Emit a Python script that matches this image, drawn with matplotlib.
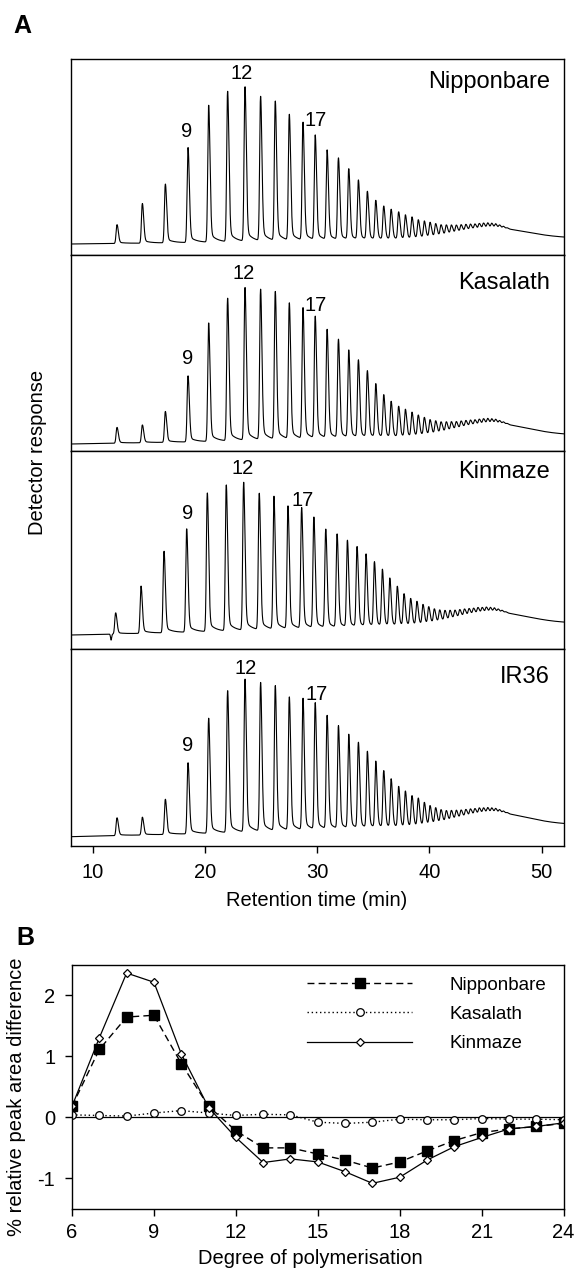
#!/usr/bin/env python3
"""
Rice starch chain length profiles: chromatograms (A) and
relative peak area differences against IR36 (B)
"""

import numpy as np
import matplotlib.pyplot as plt

plt.rcParams['font.family'] = ['Liberation Sans', 'DejaVu Sans']
plt.rcParams['axes.unicode_minus'] = False

# ---- panel A: peak table, DP 6..48 ----
dp = list(range(6, 49))
peak_time = [12.14, 14.40, 16.45, 18.47, 20.31, 22.00, 23.55, 24.94, 26.25, 27.50,
             28.72, 29.81, 30.87, 31.88, 32.80, 33.66, 34.46, 35.21, 35.92, 36.58,
             37.25, 37.85, 38.44, 39.00, 39.54, 40.05, 40.55, 41.03, 41.50, 41.95,
             42.39, 42.82, 43.24, 43.65, 44.05, 44.44, 44.82, 45.19, 45.55, 45.90,
             46.25, 46.59, 46.92]

cultivars = ['Nipponbare', 'Kasalath', 'Kinmaze', 'IR36']
nipponbare_h = [18.7, 39.4, 58.4, 94.4, 136, 149.4, 153.4, 143.4, 138.4, 125,
                117, 104, 89, 81, 70, 58.7, 47.4, 38.4, 32.7, 29.4,
                26.7, 23.4, 21, 17.7, 16, 14, 12, 10, 9, 8,
                7, 6.5, 6, 5.5, 5, 5, 5, 5, 4.5, 4, 3, 2, 1]
kasalath_h = [15.7, 17.7, 30.7, 65.7, 117.7, 141.7, 151.7, 149.4, 146.7, 135,
              130, 121, 107.7, 97.7, 86.7, 76.7, 65.7, 52.7, 41.7, 35,
              30, 26.7, 23.4, 20, 17, 14, 12, 10, 9, 8,
              7, 6.5, 6, 5.5, 5, 5, 5, 5, 4.5, 4, 3, 2, 1]
kinmaze_h = [21, 47, 81, 102.7, 137.7, 145, 147, 135.4, 132, 122,
             120, 110, 97.7, 92.7, 86, 79.4, 71.7, 63.7, 56, 47,
             38.7, 31, 26, 22.7, 19, 16, 13, 11, 9.5, 8.5,
             7.5, 7, 6.5, 6, 5.5, 5.5, 5, 5, 4.5, 4, 3, 2, 1]
ir36_h = [17.7, 17.7, 35, 70.7, 114.3, 141, 151.7, 147.7, 144, 132.3,
          130.7, 125.7, 112.7, 102.3, 93.3, 85, 75.7, 65.7, 56, 47.7,
          40, 35, 30, 27, 22, 18, 15, 12, 10, 9,
          8, 7, 6.5, 6, 5.5, 5.5, 5, 5, 4.5, 4, 3, 2, 1]
heights = [nipponbare_h, kasalath_h, kinmaze_h, ir36_h]

time_shift = [0.0, 0.0, -0.12, 0.0]
baseline_start = [-1.3, -2.3, -2.3, -1.7]
baseline_end = [4.3, 6.2, 9.0, 9.8]
hump_height = [11, 13, 13, 14]
dip_depth = [0, 0, -6, 0]          # injection artefact (Kinmaze)
y_limits = [(-12.3, 183.7), (-9.3, 186.7), (-16.3, 181.7), (-11, 186)]

# DP labels: (retention time, height)
label_text = ['9', '12', '17']
label_pos = [[(18.32, 111), (23.22, 169.4), (29.84, 122)],
             [(18.41, 83.4), (23.45, 168.4), (29.84, 136.7)],
             [(18.41, 119.4), (23.37, 164.4), (28.71, 132.7)],
             [(18.46, 89.3), (23.58, 166.7), (29.90, 140)]]
name_y = [0.884, 0.856, 0.892, 0.859]

# ---- panel B ----
dp_b = list(range(6, 25))
nipponbare_diff = [0.18, 1.11, 1.64, 1.67, 0.88, 0.18, -0.22, -0.50, -0.50, -0.60,
                   -0.70, -0.83, -0.73, -0.55, -0.38, -0.25, -0.19, -0.15, -0.10]
kasalath_diff = [0.04, 0.03, 0.02, 0.07, 0.11, 0.07, 0.03, 0.05, 0.04, -0.08,
                 -0.10, -0.08, -0.03, -0.04, -0.04, -0.02, -0.03, -0.03, -0.04]
kinmaze_diff = [0.18, 1.30, 2.36, 2.21, 1.04, 0.16, -0.33, -0.74, -0.68, -0.73,
                -0.89, -1.08, -0.98, -0.70, -0.48, -0.33, -0.19, -0.15, -0.09]


def chromatogram(time, hts, shift, b0, b1, hump, dip):
    """
    sum of tailing peaks on a drifting baseline with a broad hump
    """
    y = b0 + (b1 - b0) * (time - time[0]) / (time[-1] - time[0])
    y = y + hump * np.exp(-0.5 * ((time - 45.5) / 3.2) ** 2)
    for t0, h in zip(peak_time, hts):
        t0 = t0 + shift
        sig = np.where(time < t0, 0.075, 0.12)
        y = y + h * np.exp(-0.5 * ((time - t0) / sig) ** 2)
        # slow tail after each peak
        after = np.clip(time - t0, 0, None)
        y = y + np.where(time > t0, 0.08 * h * np.exp(-after / 0.6)
                         * (1 - np.exp(-after / 0.08)), 0)
    if dip:
        y = y + dip * np.exp(-0.5 * ((time - 11.62) / 0.05) ** 2)
    return y


def main():
    fig = plt.figure(figsize=(5.78, 12.78), dpi=100)
    W, H = 578., 1278.

    time = np.linspace(8, 52, 8000)
    tops = [59, 255, 451, 649, 846]
    left, right = 70.5, 564.
    for i, name in enumerate(cultivars):
        ax = fig.add_axes([left / W, 1 - tops[i + 1] / H,
                           (right - left) / W, (tops[i + 1] - tops[i]) / H])
        y = chromatogram(time, heights[i], time_shift[i], baseline_start[i],
                         baseline_end[i], hump_height[i], dip_depth[i])
        ax.plot(time, y, color='k', lw=0.8)
        ax.set_xlim(8, 52)
        ax.set_ylim(*y_limits[i])
        ax.set_yticks([])
        for txt, (tx, ty) in zip(label_text, label_pos[i]):
            ax.text(tx, ty, txt, ha='center', va='center', fontsize=14.5)
        ax.text(0.972, name_y[i], name, transform=ax.transAxes, ha='right',
                va='center', fontsize=17)
        for sp in ax.spines.values():
            sp.set_linewidth(1.0)
        if i < 3:
            ax.set_xticks([])
        else:
            ax.set_xticks([10, 20, 30, 40, 50])
            ax.tick_params(axis='x', direction='out', length=5, width=1.0,
                           pad=7, labelsize=14.5)

    fig.text(38 / W, 1 - 452.5 / H, 'Detector response', rotation=90,
             ha='center', va='center', fontsize=14.5)
    fig.text(317 / W, 1 - 901 / H, 'Retention time (min)', ha='center',
             va='center', fontsize=14.5)
    fig.text(13 / W, 1 - 33 / H, 'A', fontsize=18, fontweight='bold',
             ha='left', va='baseline')

    # panel B
    axb = fig.add_axes([72 / W, 1 - 1209 / H, (563.6 - 72) / W, (1209 - 964.5) / H])
    axb.axhline(0, color='k', lw=0.9)
    axb.plot(dp_b, nipponbare_diff, color='k', lw=1.0, dashes=(5, 3),
             marker='s', ms=6.5, mfc='k', mec='k', label='Nipponbare')
    axb.plot(dp_b, kasalath_diff, color='k', lw=1.0, dashes=(1, 2),
             marker='o', ms=5.5, mfc='white', mec='k', mew=0.9, label='Kasalath')
    axb.plot(dp_b, kinmaze_diff, color='k', lw=0.9,
             marker='D', ms=4.2, mfc='white', mec='k', mew=0.9, label='Kinmaze')
    axb.set_xlim(6, 24)
    axb.set_ylim(-1.5, 2.5)
    axb.set_xticks([6, 9, 12, 15, 18, 21, 24])
    axb.set_yticks([-1, 0, 1, 2])
    axb.tick_params(axis='x', direction='out', length=5, width=1.0, pad=5,
                    labelsize=14.5)
    axb.tick_params(axis='y', direction='out', length=5, width=1.0, pad=7,
                    labelsize=14.5)
    for sp in axb.spines.values():
        sp.set_linewidth(1.0)
    axb.legend(loc='upper left', bbox_to_anchor=(0.463, 0.982), frameon=False,
               fontsize=13.5, handlelength=5.6, handletextpad=2.0,
               labelspacing=0.65, numpoints=1, borderaxespad=0)

    fig.text(16.7 / W, 1 - 1096.7 / H, '% relative peak area difference',
             rotation=90, ha='center', va='center', fontsize=14.5)
    fig.text(310 / W, 1 - 1259 / H, 'Degree of polymerisation', ha='center',
             va='center', fontsize=14.5)
    fig.text(16.7 / W, 1 - 945 / H, 'B', fontsize=18, fontweight='bold',
             ha='left', va='baseline')

    fig.savefig('out.png', dpi=100)


if __name__ == "__main__":
    main()
